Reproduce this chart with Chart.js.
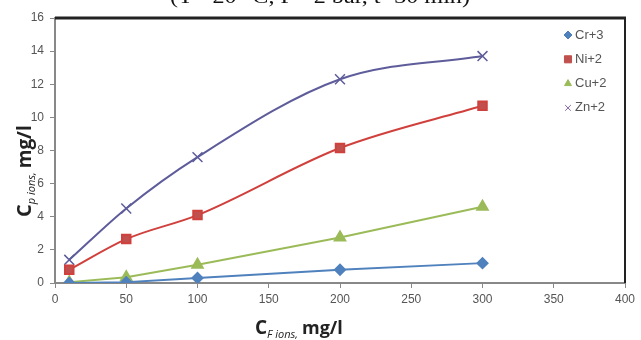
<!DOCTYPE html>
<html>
<head>
<meta charset="utf-8">
<script src="https://cdn.jsdelivr.net/npm/chart.js@4/dist/chart.umd.min.js"></script>
<style>
  html, body { margin: 0; padding: 0; background: #fff; }
  #wrap { width: 641px; height: 340px; position: relative; }
</style>
</head>
<body>
<div id="wrap"><canvas id="ionChart" width="641" height="340"></canvas></div>
<script>
// feed concentration, mg/l
const feedConc = [10, 50, 100, 200, 300];

// permeate concentration per ion, mg/l
const crValues = [0.0, 0.05, 0.3, 0.8, 1.2];
const niValues = [0.8, 2.65, 4.1, 8.15, 10.7];
const cuValues = [0.05, 0.35, 1.1, 2.75, 4.6];
const znValues = [1.4, 4.5, 7.6, 12.3, 13.7];

const seriesNames = ["Cr+3", "Ni+2", "Cu+2", "Zn+2"];
const captionText = "(T= 20 °C, P= 2 bar, t=30 min)";

const toPoints = (vals) => vals.map((v, i) => ({ x: feedConc[i], y: v }));

// frame, legend, axis titles and the clipped caption line
const decorations = {
  id: "decorations",
  afterDraw(chart) {
    const { ctx, chartArea: a } = chart;
    ctx.save();

    // caption, only its lower part fits in the canvas
    ctx.fillStyle = "#111";
    ctx.font = "20px 'Liberation Serif'";
    const w = ctx.measureText(captionText).width;
    ctx.save();
    ctx.translate(170, 3);
    ctx.scale(300 / w, 1);
    ctx.fillText(captionText, 0, 0);
    ctx.restore();

    // black box on top and right
    ctx.strokeStyle = "#222";
    ctx.lineWidth = 3;
    ctx.beginPath();
    ctx.moveTo(a.left, a.top);
    ctx.lineTo(a.right + 1, a.top);
    ctx.stroke();
    ctx.lineWidth = 2;
    ctx.beginPath();
    ctx.moveTo(a.right, a.top);
    ctx.lineTo(a.right, a.bottom);
    ctx.stroke();

    // legend in the upper right corner
    ctx.font = "13px 'Liberation Sans'";
    ctx.textBaseline = "middle";
    chart.data.datasets.forEach((ds, i) => {
      const ly = 35 + i * 24.3;
      ctx.fillStyle = ds.backgroundColor;
      ctx.strokeStyle = ds.backgroundColor;
      ctx.lineWidth = 1;
      Chart.helpers.drawPoint(ctx, {
        pointStyle: ds.pointStyle,
        radius: ds.pointStyle === "rect" ? 5 : 4,
        rotation: ds.pointRotation || 0,
        borderWidth: 1
      }, 568, ly);
      ctx.fillStyle = "#555";
      ctx.fillText(ds.label, 575, ly);
    });

    // x axis title: C_F ions, mg/l
    ctx.textBaseline = "alphabetic";
    ctx.fillStyle = "#222";
    let x = 255, y = 334;
    ctx.font = "bold 19px 'Open Sans'";
    ctx.fillText("C", x, y);
    x += ctx.measureText("C").width;
    ctx.font = "italic 11px 'Open Sans'";
    ctx.fillText("F ions,", x, y + 4);
    x += ctx.measureText("F ions,").width + 4;
    ctx.font = "bold 18px 'Open Sans'";
    ctx.fillText("mg/l", x, y);

    // y axis title, rotated
    ctx.translate(31, 217);
    ctx.rotate(-Math.PI / 2);
    x = 0; y = 0;
    ctx.font = "bold 20px 'Open Sans'";
    ctx.fillText("C", x, y);
    x += ctx.measureText("C").width;
    ctx.font = "italic 11px 'Open Sans'";
    ctx.fillText("p ions,", x, y + 4);
    x += ctx.measureText("p ions,").width + 4;
    ctx.font = "bold 19px 'Open Sans'";
    ctx.fillText("mg/l", x, y);

    ctx.restore();
  }
};

const tickFont = { family: "'Liberation Sans'", size: 12 };

new Chart(document.getElementById("ionChart"), {
  type: "scatter",
  data: {
    datasets: [
      {
        label: seriesNames[0],
        data: toPoints(crValues),
        showLine: true,
        borderColor: "#4F81BD",
        backgroundColor: "#4F81BD",
        borderWidth: 2,
        pointStyle: "rectRot",
        pointRadius: 5,
        tension: 0
      },
      {
        label: seriesNames[1],
        data: toPoints(niValues),
        showLine: true,
        borderColor: "#D0403C",
        backgroundColor: "#C0504D",
        borderWidth: 2,
        pointStyle: "rect",
        pointRadius: 6,
        cubicInterpolationMode: "monotone"
      },
      {
        label: seriesNames[2],
        data: toPoints(cuValues),
        showLine: true,
        borderColor: "#9BBB59",
        backgroundColor: "#9BBB59",
        borderWidth: 2,
        pointStyle: "triangle",
        pointRadius: 6,
        tension: 0
      },
      {
        label: seriesNames[3],
        data: toPoints(znValues),
        showLine: true,
        borderColor: "#5E5C9A",
        backgroundColor: "#8064A2",
        borderWidth: 2,
        pointStyle: "cross",
        pointRotation: 45,
        pointRadius: 7,
        pointBorderWidth: 1.5,
        cubicInterpolationMode: "monotone"
      }
    ]
  },
  options: {
    responsive: false,
    animation: false,
    layout: { padding: { top: 18, right: 16, left: 0, bottom: 0 } },
    plugins: {
      legend: { display: false },
      tooltip: { enabled: false }
    },
    scales: {
      x: {
        type: "linear",
        min: 0,
        max: 400,
        border: { color: "#888", width: 2 },
        grid: { drawOnChartArea: false, color: "#888", tickLength: 5 },
        ticks: { stepSize: 50, color: "#555", font: tickFont, padding: 4 },
        afterFit(scale) { scale.height = 57; }
      },
      y: {
        min: 0,
        max: 16,
        border: { color: "#888", width: 2 },
        grid: { drawOnChartArea: false, color: "#888", tickLength: 5 },
        ticks: { stepSize: 2, color: "#555", font: tickFont, padding: 6 },
        afterFit(scale) { scale.width = 55; }
      }
    }
  },
  plugins: [decorations]
});
</script>
</body>
</html>
